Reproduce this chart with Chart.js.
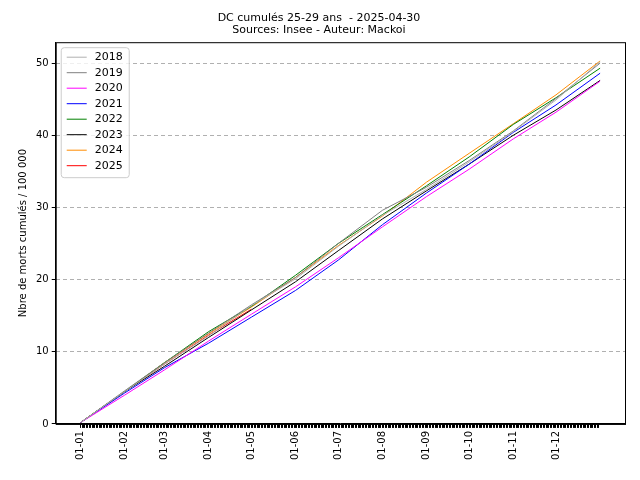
<!DOCTYPE html>
<html>
<head>
<meta charset="utf-8">
<script src="https://cdn.jsdelivr.net/npm/chart.js@4"></script>
<style>
  body { margin: 0; background: #fff; }
  #wrap { width: 640px; height: 480px; }
</style>
</head>
<body>
<div id="wrap"><canvas id="c"></canvas></div>
<script>
// day of year at each month start, plus year end
const monthDays = [0, 31, 59, 90, 120, 151, 181, 212, 243, 273, 304, 334, 365];
const monthLabels = ["01-01", "01-02", "01-03", "01-04", "01-05", "01-06", "01-07", "01-08", "01-09", "01-10", "01-11", "01-12"];
const years = ["2018", "2019", "2020", "2021", "2022", "2023", "2024", "2025"];
const colors = ["#b0b0b0", "#808080", "#ff00ff", "#0000ff", "#008000", "#000000", "#ff8c00", "#ff0000"];
// cumulative deaths / 100 000 at each month start
const v2018 = [0.2, 4.5, 8.3, 12.2, 16.4, 20.1, 24.6, 28.9, 32.5, 36.3, 40.5, 44.9, 50.2];
const v2019 = [0.2, 4.6, 8.5, 12.6, 16.5, 20.3, 25.0, 29.6, 32.8, 36.5, 40.6, 45.1, 50.0];
const v2020 = [0.2, 4.0, 7.5, 11.5, 15.2, 19.0, 23.0, 27.3, 31.5, 35.3, 39.5, 43.2, 47.5];
const v2021 = [0.2, 4.3, 7.8, 11.2, 14.8, 18.5, 22.7, 27.6, 32.0, 36.0, 40.4, 44.2, 48.6];
const v2022 = [0.2, 4.5, 8.5, 12.8, 16.3, 20.6, 25.0, 29.0, 33.0, 37.0, 41.5, 45.2, 49.3];
const v2023 = [0.2, 4.5, 8.0, 12.0, 15.8, 19.7, 24.0, 28.4, 32.3, 36.0, 40.0, 43.5, 47.6];
const v2024 = [0.2, 4.5, 8.5, 12.5, 16.2, 20.3, 24.7, 28.8, 33.5, 37.5, 41.6, 45.6, 50.3];
const v2025 = [0.2, 4.5, 8.3, 12.3, 15.9];
const series = [v2018, v2019, v2020, v2021, v2022, v2023, v2024, v2025];

const datasets = series.map((vals, i) => ({
    label: years[i],
    data: vals.map((y, k) => ({ x: monthDays[k], y: y })),
    borderColor: colors[i],
    backgroundColor: colors[i],
    borderWidth: 1,
    pointRadius: 0,
    tension: 0
}));

// legend drawn inside plot, top-left, matplotlib style
const boxLegend = {
    id: "boxLegend",
    afterDraw(chart) {
        const ctx = chart.ctx, a = chart.chartArea;
        const x0 = a.left + 5, y0 = a.top + 5, rowH = 15.5;
        const w = 68, h = rowH * years.length + 6;
        ctx.save();
        ctx.fillStyle = "rgba(255,255,255,0.8)";
        ctx.strokeStyle = "#cccccc";
        ctx.lineWidth = 1;
        ctx.beginPath();
        ctx.roundRect(x0 + 0.5, y0 + 0.5, w, h, 3);
        ctx.fill();
        ctx.stroke();
        ctx.font = "11px 'DejaVu Sans'";
        ctx.textBaseline = "middle";
        years.forEach((yr, i) => {
            const yy = y0 + 10 + i * rowH;
            ctx.strokeStyle = colors[i];
            ctx.beginPath();
            ctx.moveTo(x0 + 6, yy);
            ctx.lineTo(x0 + 26, yy);
            ctx.stroke();
            ctx.fillStyle = "#000";
            ctx.fillText(yr, x0 + 34, yy);
        });
        ctx.strokeStyle = "#000";
        ctx.strokeRect(a.left + 0.5, a.top + 0.5, a.width, a.height);
        ctx.restore();
    }
};

new Chart(document.getElementById("c"), {
    type: "line",
    data: { datasets },
    plugins: [boxLegend],
    options: {
        responsive: true,
        maintainAspectRatio: false,
        animation: false,
        layout: { padding: { left: 13, right: 15, top: 4, bottom: 17 } },
        plugins: {
            legend: { display: false },
            tooltip: { enabled: false },
            title: {
                display: true,
                text: ["DC cumulés 25-29 ans  - 2025-04-30", "Sources: Insee - Auteur: Mackoi"],
                color: "#000",
                font: { family: "DejaVu Sans", size: 11, weight: "normal", lineHeight: 1.1 },
                padding: { top: 8, bottom: 6 }
            }
        },
        scales: {
            x: {
                type: "linear",
                min: -17.5,
                max: 382.5,
                afterBuildTicks(axis) {
                    const t = [];
                    for (let d = 0; d < 365; d++) t.push({ value: d });
                    axis.ticks = t;
                },
                ticks: {
                    autoSkip: false,
                    maxRotation: 90,
                    minRotation: 90,
                    color: "#000",
                    font: { family: "DejaVu Sans", size: 10 },
                    callback(v) {
                        const k = monthDays.indexOf(v);
                        return k >= 0 && k < 12 ? monthLabels[k] : "";
                    }
                },
                grid: { drawOnChartArea: false, drawTicks: true, tickLength: 4, color: "#000" },
                border: { color: "#000" }
            },
            y: {
                min: 0,
                max: 52.9,
                afterBuildTicks(axis) {
                    axis.ticks = [0, 10, 20, 30, 40, 50].map(v => ({ value: v }));
                },
                ticks: { color: "#000", font: { family: "DejaVu Sans", size: 10 } },
                title: {
                    display: true,
                    text: "Nbre de morts cumulés / 100 000",
                    color: "#000",
                    font: { family: "DejaVu Sans", size: 10 }
                },
                grid: { color: "#b0b0b0", tickColor: "#000", tickLength: 4, borderDash: [4, 3] },
                border: { color: "#000", dash: [4, 3] }
            }
        }
    }
});
</script>
</body>
</html>
